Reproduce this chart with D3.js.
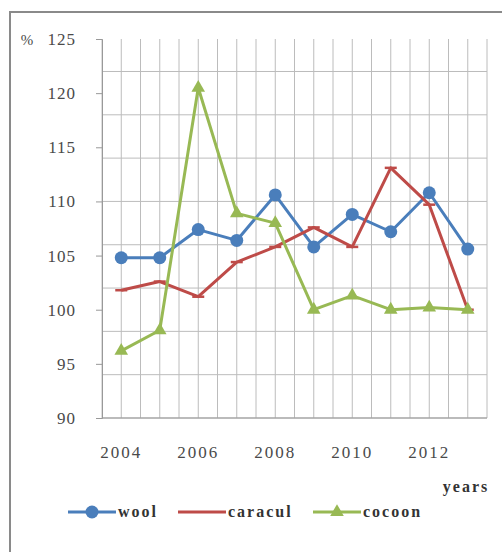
<!DOCTYPE html>
<html>
<head>
<meta charset="utf-8">
<script src="https://cdn.jsdelivr.net/npm/d3@7"></script>
<style>
  body { margin: 0; background: #fff; }
  text { font-family: "Liberation Serif", "DejaVu Serif", serif; }
</style>
</head>
<body>
<div id="graph"></div>
<script>
var years = [2004, 2005, 2006, 2007, 2008, 2009, 2010, 2011, 2012, 2013]
var yearLabels = [2004, 2006, 2008, 2010, 2012]
var yTicks = [90, 95, 100, 105, 110, 115, 120, 125]
var gridVals = [90, 94, 98, 102, 106, 110, 114, 118, 122]

var wool    = [104.8, 104.8, 107.4, 106.4, 110.6, 105.8, 108.8, 107.2, 110.8, 105.6]
var caracul = [101.8, 102.6, 101.2, 104.4, 105.8, 107.6, 105.8, 113.1, 109.7, 100.0]
var cocoon  = [96.2, 98.1, 120.5, 108.9, 108.0, 100.0, 101.3, 100.0, 100.2, 100.0]

var series = [
  {name: 'wool', values: wool, color: '#4a7ebb', marker: 'circle'},
  {name: 'caracul', values: caracul, color: '#be4b48', marker: 'dash'},
  {name: 'cocoon', values: cocoon, color: '#98b954', marker: 'triangle'}
]

var W = 502, H = 552
var m = {left: 102, right: 15, top: 39, bottom: 134}

var svg = d3.select('#graph').append('svg').attr('width', W).attr('height', H)

// frame
svg.append('path')
  .attr('d', 'M10,' + H + ' L10,12 L' + W + ',12')
  .attr('fill', 'none').attr('stroke', '#8a8a8a').attr('stroke-width', 2)

var x = d3.scaleBand().domain(years).range([m.left, W - m.right])
var y = d3.scaleLinear().domain([90, 125]).range([H - m.bottom, m.top])
var cx = d => x(d) + x.bandwidth()/2

// grid
var vLines = d3.range(years.length*2 + 1).map(i => m.left + i*x.bandwidth()/2)
svg.append('g').selectAll('line').data(vLines).join('line')
  .attr('x1', d => d).attr('x2', d => d)
  .attr('y1', m.top).attr('y2', H - m.bottom)
  .attr('stroke', '#bcbcbc').attr('stroke-width', 1)

svg.append('g').selectAll('line').data(gridVals).join('line')
  .attr('x1', m.left).attr('x2', W - m.right)
  .attr('y1', d => y(d)).attr('y2', d => y(d))
  .attr('stroke', '#bcbcbc').attr('stroke-width', 1)

// y axis
var ya = svg.append('g').attr('transform', 'translate(' + m.left + ',0)')
  .call(d3.axisLeft(y).tickValues(yTicks).tickSize(6).tickPadding(20))
ya.select('.domain').attr('stroke', '#999')
ya.selectAll('.tick line').attr('stroke', '#999')
ya.selectAll('text').attr('font-size', 17).attr('letter-spacing', 1).attr('fill', '#4a4a4a')

// x axis labels
svg.append('line')
  .attr('x1', m.left).attr('x2', W - m.right)
  .attr('y1', y(90)).attr('y2', y(90)).attr('stroke', '#999')

svg.append('g').selectAll('text').data(yearLabels).join('text')
  .attr('x', d => cx(d)).attr('y', y(90) + 40)
  .attr('text-anchor', 'middle').attr('font-size', 17).attr('letter-spacing', 2).attr('fill', '#4a4a4a')
  .text(d => d)

svg.append('text').attr('x', 27).attr('y', 45)
  .attr('font-size', 15).attr('fill', '#4a4a4a').attr('text-anchor', 'middle').text('%')

svg.append('text').attr('x', 466).attr('y', 492)
  .attr('font-size', 16).attr('letter-spacing', 2).attr('font-weight', 'bold').attr('fill', '#333')
  .attr('text-anchor', 'middle').text('years')

var line = d3.line().x((d, i) => cx(years[i])).y(d => y(d))

function drawMarker(g, type, color) {
  if (type == 'circle') g.append('circle').attr('r', 6.5).attr('fill', color)
  else if (type == 'triangle') g.append('path').attr('d', d3.symbol(d3.symbolTriangle, 80)).attr('fill', color)
  else g.append('line').attr('x1', -6).attr('x2', 6).attr('stroke', color).attr('stroke-width', 2.5)
}

series.forEach(s => {
  svg.append('path').datum(s.values)
    .attr('d', line).attr('fill', 'none')
    .attr('stroke', s.color).attr('stroke-width', 3).attr('stroke-linejoin', 'round')
  svg.append('g').selectAll('g').data(s.values).join('g')
    .attr('transform', (d, i) => 'translate(' + cx(years[i]) + ',' + y(d) + ')')
    .each(function() { drawMarker(d3.select(this), s.marker, s.color) })
})

// legend
var legX = [68, 178, 313]
var leg = svg.append('g').selectAll('g').data(series).join('g')
  .attr('transform', (d, i) => 'translate(' + legX[i] + ',512)')
leg.append('line').attr('x1', 0).attr('x2', 48)
  .attr('stroke', d => d.color).attr('stroke-width', 3)
leg.each(function(d) {
  if (d.marker == 'dash') return
  var g = d3.select(this).append('g').attr('transform', 'translate(24,0)')
  drawMarker(g, d.marker, d.color)
})
leg.append('text').attr('x', 50).attr('y', 5)
  .attr('font-size', 16).attr('letter-spacing', 2).attr('font-weight', 'bold').attr('fill', '#333')
  .text(d => d.name)
</script>
</body>
</html>
